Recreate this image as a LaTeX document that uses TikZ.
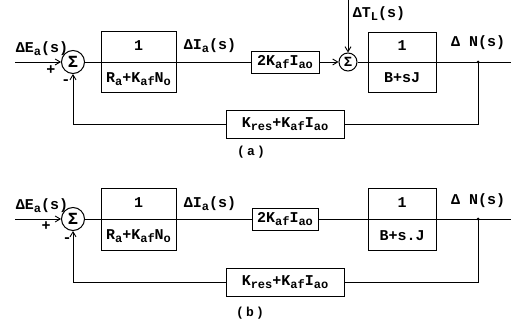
\documentclass[tikz,border=0pt]{standalone}
\usepackage{fontspec}
\setmainfont{Liberation Mono}
\usetikzlibrary{arrows.meta}
\newcommand{\sbs}[1]{\raisebox{-0.35ex}{\fontsize{12}{12}\selectfont #1}}
\tikzset{
  blk/.style={draw, line width=0.9pt, inner sep=0pt},
  sumc/.style={circle, draw, line width=1pt, inner sep=0pt, minimum size=23pt, font=\fontsize{17}{17}\selectfont\bfseries},
  sumd/.style={circle, draw, line width=1pt, inner sep=0pt, minimum size=18pt, font=\fontsize{14}{14}\selectfont\bfseries},
  lbl/.style={inner sep=0pt, font=\fontsize{15}{15}\selectfont\bfseries},
  caplbl/.style={inner sep=0pt, font=\fontsize{13}{13}\selectfont\bfseries},
  wire/.style={line width=0.9pt},
  arr/.style={wire, -{Straight Barb[length=5pt,width=6pt]}},
}
\begin{document}
\begin{tikzpicture}[x=1pt,y=-1pt]
\useasboundingbox (0,0) rectangle (511,320);
% ---------------- (a) ----------------
\coordinate (ina) at (15,62);
\node[sumc] (s1a) at (73,62) {Σ};
\node[blk, minimum width=75pt, minimum height=61pt] (b1a) at (138.5,62) {};
\node[lbl] (b1an) at (138.5,46) {1};
\node[lbl] (b1ad) at (138.5,79) {R\sbs{a}+K\sbs{af}N\sbs{o}};
\node[blk, lbl, minimum width=68pt, minimum height=22pt] (b2a) at (285,62) {2K\sbs{af}I\sbs{ao}};
\node[sumd] (s2a) at (348,62) {Σ};
\coordinate (tla) at (348,0);
\node[blk, minimum width=68pt, minimum height=60pt] (b3a) at (402,62) {};
\node[lbl] (b3an) at (402,46) {1};
\node[lbl] (b3ad) at (402,78) {B+sJ};
\coordinate (bpa) at (478,62);
\coordinate (outa) at (511,62);
\node[blk, lbl, minimum width=118pt, minimum height=28pt] (fba) at (285,124) {K\sbs{res}+K\sbs{af}I\sbs{ao}};
\draw[wire] (b1a.west) -- (b1a.east);
\draw[wire] (b3a.west) -- (b3a.east);
\draw[arr] (ina) -- (s1a);
\draw[wire] (s1a) -- (b1a);
\draw[wire] (b1a) -- (b2a);
\draw[arr] (b2a) -- (s2a);
\draw[arr] (tla) -- (s2a);
\draw[wire] (s2a) -- (b3a);
\draw[wire] (b3a) -- (outa);
\fill (bpa) circle (1.5pt);
\draw[wire] (bpa) |- (fba.east);
\draw[arr] (fba.west) -| (s1a.south);
\node[lbl] (lea) at (42,49) {ΔE\sbs{a}(s)};
\node[lbl] (pla) at (51,70) {+};
\node[lbl] (mia) at (66,82) {-};
\node[lbl] (lia) at (210,46) {ΔI\sbs{a}(s)};
\node[lbl] (lta) at (379,14) {ΔT\sbs{L}(s)};
\node[lbl] (lna) at (478,43) {Δ N(s)};
\node[caplbl] (capa) at (251,152) {(\,a\,)};
% ---------------- (b) ----------------
\coordinate (inb) at (15,219);
\node[sumc] (s1b) at (73,219) {Σ};
\node[blk, minimum width=75pt, minimum height=62pt] (b1b) at (138.5,219) {};
\node[lbl] (b1bn) at (138.5,203) {1};
\node[lbl] (b1bd) at (138.5,236) {R\sbs{a}+K\sbs{af}N\sbs{o}};
\node[blk, lbl, minimum width=66pt, minimum height=22pt] (b2b) at (285,219) {2K\sbs{af}I\sbs{ao}};
\node[blk, minimum width=68pt, minimum height=62pt] (b3b) at (402,219) {};
\node[lbl] (b3bn) at (402,203) {1};
\node[lbl] (b3bd) at (402,236) {B+s.J};
\coordinate (bpb) at (478,219);
\coordinate (outb) at (511,219);
\node[blk, lbl, minimum width=118pt, minimum height=28pt] (fbb) at (285,282) {K\sbs{res}+K\sbs{af}I\sbs{ao}};
\draw[wire] (b1b.west) -- (b1b.east);
\draw[wire] (b3b.west) -- (b3b.east);
\draw[arr] (inb) -- (s1b);
\draw[wire] (s1b) -- (b1b);
\draw[wire] (b1b) -- (b2b);
\draw[wire] (b2b) -- (b3b);
\draw[wire] (b3b) -- (outb);
\fill (bpb) circle (1.5pt);
\draw[wire] (bpb) |- (fbb.east);
\draw[arr] (fbb.west) -| (s1b.south);
\node[lbl] (leb) at (42,206) {ΔE\sbs{a}(s)};
\node[lbl] (plb) at (46,226) {+};
\node[lbl] (mib) at (67,240) {-};
\node[lbl] (lib) at (210,204) {ΔI\sbs{a}(s)};
\node[lbl] (lnb) at (478,201) {Δ N(s)};
\node[caplbl] (capb) at (250,313) {(\,b\,)};
\end{tikzpicture}
\end{document}
